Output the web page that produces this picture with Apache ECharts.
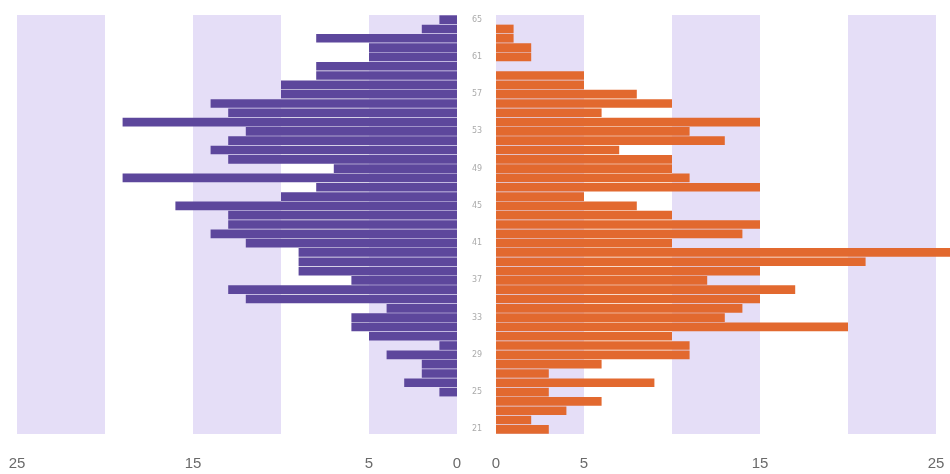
<!DOCTYPE html>
<html>
<head>
<meta charset="utf-8">
<script src="https://cdn.jsdelivr.net/npm/echarts@6/dist/echarts.min.js"></script>
<style>html,body{margin:0;padding:0;background:#fff;}#c{width:950px;height:474px;}</style>
</head>
<body>
<div id="c"></div>
<script>
// Ages (bottom to top)
var ages = [];
for (var a = 21; a <= 65; a++) ages.push(String(a));
// Left (purple) series, ages 21..65
var leftValues = [0,0,0,0,1,3,2,2,4,1,5,6,6,4,12,13,6,9,9,9,12,14,13,13,16,10,8,19,7,13,14,13,12,19,13,14,10,10,8,8,5,5,8,2,1];
// Right (orange) series, ages 21..65
var rightValues = [3,2,4,6,3,9,3,6,11,11,10,20,13,14,15,17,12,15,21,26,10,14,15,10,8,5,15,11,10,10,7,13,11,15,6,10,8,5,5,0,2,2,1,1,0];
// Value-axis tick labels shown
var tickLabels = [0, 5, 15, 25];

var chart = echarts.init(document.getElementById('c'));
var fmt = function (v) { return tickLabels.indexOf(v) >= 0 ? String(v) : ''; };
var stripe = ['#e5def7', '#ffffff'];
var axisLabelStyle = { color: '#6a6a6a', fontSize: 15, fontFamily: 'Liberation Sans, Arial, sans-serif', margin: 22, formatter: fmt };

chart.setOption({
  animation: false,
  backgroundColor: '#ffffff',
  grid: [
    { left: 17, top: 15, width: 440, height: 419, outerBoundsMode: 'none', containLabel: false },
    { left: 496, top: 15, width: 457.6, height: 419, outerBoundsMode: 'none', containLabel: false }
  ],
  xAxis: [
    { gridIndex: 0, type: 'value', inverse: true, min: 0, max: 25, interval: 5,
      axisLine: { show: false }, axisTick: { show: false }, splitLine: { show: false },
      splitArea: { show: true, areaStyle: { color: stripe } },
      axisLabel: axisLabelStyle },
    { gridIndex: 1, type: 'value', min: 0, max: 26, interval: 5,
      axisLine: { show: false }, axisTick: { show: false }, splitLine: { show: false },
      splitArea: { show: true, areaStyle: { color: stripe } },
      axisLabel: axisLabelStyle }
  ],
  yAxis: [
    { gridIndex: 0, type: 'category', data: ages, position: 'right',
      axisLine: { show: false }, axisTick: { show: false },
      axisLabel: { interval: 3, align: 'center', margin: 20, color: '#ababab', fontSize: 8,
        fontFamily: 'DejaVu Sans, sans-serif', padding: [9, 0, 0, 0] } },
    { gridIndex: 1, type: 'category', data: ages, show: false }
  ],
  series: [
    { type: 'bar', xAxisIndex: 0, yAxisIndex: 0, data: leftValues, barCategoryGap: '7%',
      itemStyle: { color: '#5d479c' } },
    { type: 'bar', xAxisIndex: 1, yAxisIndex: 1, data: rightValues, barCategoryGap: '7%',
      itemStyle: { color: '#e2692f' } }
  ]
});
</script>
</body>
</html>
